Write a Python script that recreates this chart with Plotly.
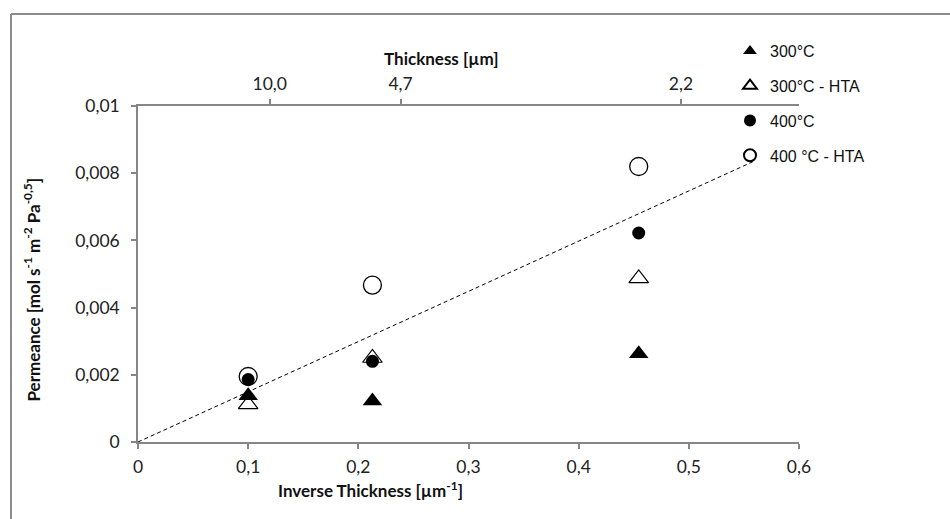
import plotly.graph_objects as go

# ---- data ----
inv_thickness = [0.1, 0.2128, 0.4545]          # 1/µm
perm_300 = [0.00138, 0.00122, 0.00263]
perm_300_hta = [0.00112, 0.00250, 0.00487]
perm_400 = [0.00186, 0.00240, 0.00622]
perm_400_hta = [0.00195, 0.00467, 0.00820]
trend_x = [0.0, 0.558]
trend_y = [0.0, 0.00834]

x_ticks = [0, 0.1, 0.2, 0.3, 0.4, 0.5, 0.6]
x_ticktext = ["0", "0,1", "0,2", "0,3", "0,4", "0,5", "0,6"]
y_ticks = [0, 0.002, 0.004, 0.006, 0.008, 0.01]
y_ticktext = ["0", "0,002", "0,004", "0,006", "0,008", "0,01"]
thickness_labels = ["10,0", "4,7", "2,2"]
thickness_values = [10.0, 4.7, 2.2]

W, H = 950, 519
L, R, T, B = 138, 151, 106, 77
PW, PH = W - L - R, H - T - B

def px(x):
    return (x - L) / PW

def py(y):
    return (H - B - y) / PH

AX = "#868686"
TICKFONT = dict(family="Lato, 'Open Sans', sans-serif", size=17.5, color="#222")
LEGFONT = dict(family="'Liberation Sans', Arial, sans-serif", size=16, color="#111")

fig = go.Figure()

fig.add_trace(go.Scatter(
    x=trend_x, y=trend_y, mode="lines",
    line=dict(color="black", width=1, dash="4px,3px"),
    showlegend=False, hoverinfo="skip"))

series = [
    ("300°C", perm_300, "triangle-up", 17, "black", 0),
    ("300°C - HTA", perm_300_hta, "triangle-up-open", 17, "black", 1.2),
    ("400°C", perm_400, "circle", 13, "black", 0),
    ("400 °C - HTA", perm_400_hta, "circle-open", 18, "black", 1.3),
]
for i, (name, vals, sym, size, col, lw) in enumerate(series):
    fig.add_trace(go.Scatter(
        x=inv_thickness, y=vals, mode="markers", name=name,
        legendgroup=f"g{i}",
        marker=dict(symbol=sym, size=size, color=col,
                    line=dict(color=col, width=lw))))

# top axis (thickness) -- invisible helper trace to activate xaxis2
fig.add_trace(go.Scatter(x=[None], y=[None], xaxis="x2", yaxis="y",
                         showlegend=False, hoverinfo="skip"))

x2_left = (L - 153) / 1100.0
x2_right = (765 - 153) / 1100.0

fig.update_layout(
    width=W, height=H,
    margin=dict(l=L, r=R, t=T, b=B, pad=0),
    paper_bgcolor="white", plot_bgcolor="white",
    showlegend=True,
    legend=dict(x=px(730), y=py(34), xanchor="left", yanchor="top",
                font=LEGFONT, tracegroupgap=11, itemwidth=30,
                itemsizing="constant",
                bgcolor="rgba(0,0,0,0)"),
    xaxis=dict(range=[0, 0.6], tickvals=x_ticks, ticktext=x_ticktext,
               showgrid=False, zeroline=False, showline=True,
               linecolor=AX, linewidth=1.5, ticks="outside", ticklen=5,
               tickcolor=AX, tickwidth=1.5, tickfont=TICKFONT,
               ticklabelstandoff=3),
    xaxis2=dict(overlaying="x", side="top", anchor="y",
                domain=[0, (765 - L) / PW],
                range=[x2_left, x2_right],
                tickvals=[1 / t for t in thickness_values],
                ticktext=thickness_labels,
                showgrid=False, zeroline=False, showline=True,
                linecolor=AX, linewidth=1.5, ticks="outside", ticklen=5,
                tickcolor=AX, tickwidth=1.5, tickfont=TICKFONT,
                ticklabelstandoff=2),
    yaxis=dict(range=[0, 0.01], tickvals=y_ticks, ticktext=y_ticktext,
               showgrid=False, zeroline=False, showline=True,
               linecolor=AX, linewidth=1.5, ticks="outside", ticklen=5,
               tickcolor=AX, tickwidth=1.5, tickfont=TICKFONT,
               ticklabelstandoff=8),
)

TITLEFONT = dict(family="Lato, 'Open Sans', sans-serif", size=17, color="#111")
fig.add_annotation(text="<b>Thickness [µm]</b>", x=px(441), y=py(46),
                   xref="paper", yref="paper", showarrow=False, font=TITLEFONT)
fig.add_annotation(text="<b>Inverse Thickness [µm<sup>-1</sup>]</b>",
                   x=px(370), y=py(503), xref="paper", yref="paper",
                   showarrow=False, font=TITLEFONT)
fig.add_annotation(text="<b>Permeance [mol s<sup>-1</sup> m<sup>-2</sup> Pa<sup>-0,5</sup>]</b>",
                   x=px(18), y=py(290), xref="paper", yref="paper",
                   textangle=-90, showarrow=False, font=TITLEFONT)

# outer chart frame (partially visible)
fig.add_shape(type="line", xref="paper", yref="paper",
              x0=px(11), x1=px(950), y0=py(14), y1=py(14),
              line=dict(color="#8c8c8c", width=2))
fig.add_shape(type="line", xref="paper", yref="paper",
              x0=px(11), x1=px(11), y0=py(14), y1=py(519),
              line=dict(color="#8c8c8c", width=2))

fig.write_html("out.html")
